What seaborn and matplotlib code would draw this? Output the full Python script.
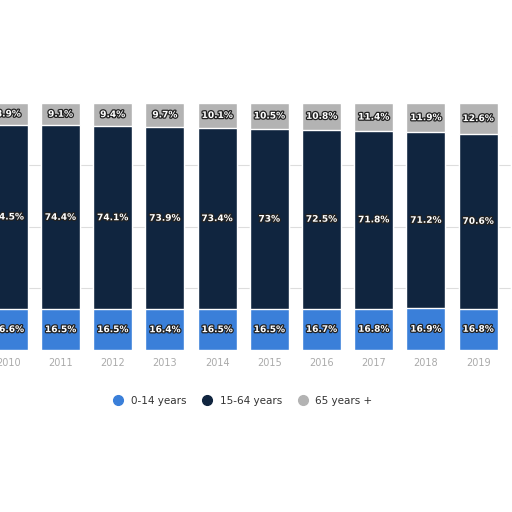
import matplotlib
matplotlib.use("Agg")
import matplotlib.pyplot as plt
import matplotlib.patheffects as pe
import seaborn as sns
import pandas as pd
import numpy as np

years = ["2010","2011","2012","2013","2014","2015","2016","2017","2018","2019","2020"]
young = [16.6,16.5,16.5,16.4,16.5,16.5,16.7,16.8,16.9,16.8,16.7]
working = [74.5,74.4,74.1,73.9,73.4,73.0,72.5,71.8,71.2,70.6,70.0]
old = [8.9,9.1,9.4,9.7,10.1,10.5,10.8,11.4,11.9,12.6,13.3]
labels_mid = ["74.5%","74.4%","74.1%","73.9%","73.4%","73%","72.5%","71.8%","71.2%","70.6%","70%"]

sns.set_theme(style="white")
fig = plt.figure(figsize=(5.12,5.12), dpi=100)
ax = fig.add_axes([0, 1-350/512, 1, 247/512])

df = pd.DataFrame({"year":years,"young":young,"working":working,"old":old})
c_young, c_work, c_old = "#3a7fd9", "#10253f", "#b3b3b3"
w = 0.75
sns.barplot(data=df, x="year", y=[100]*len(years), color=c_old, width=w, saturation=1, ax=ax, order=years)
df["yw"] = df.young + df.working
sns.barplot(data=df, x="year", y="yw", color=c_work, width=w, saturation=1, ax=ax, order=years)
sns.barplot(data=df, x="year", y="young", color=c_young, width=w, saturation=1, ax=ax, order=years)

for v in (25,50,75):
    ax.axhline(v, color="#dddddd", lw=0.8, zorder=0)

eff = [pe.withStroke(linewidth=1.8, foreground="#222222")]
for i in range(len(years)):
    kw = dict(ha="center", va="center", color="white", fontsize=6.5, fontweight="bold", path_effects=eff)
    ax.text(i, young[i]/2, f"{young[i]}%", **kw)
    ax.text(i, young[i]+working[i]/2, labels_mid[i], **kw)
    ax.text(i, 100-old[i]/2, f"{old[i]}%", **kw)

ax.set_xlim(-0.16, 9.65)
ax.set_ylim(0, 100)
ax.set_ylabel(""); ax.set_xlabel("")
ax.set_yticks([])
ax.tick_params(axis="x", labelsize=7, colors="#aaaaaa", length=0, pad=6)
for s in ax.spines.values():
    s.set_visible(False)

from matplotlib.lines import Line2D
handles = [Line2D([],[],marker="o",ls="",color=c,markersize=7) for c in (c_young,c_work,c_old)]
fig.legend(handles, ["0-14 years","15-64 years","65 years +"], loc="center", bbox_to_anchor=(240/512, 1-401/512),
           ncol=3, frameon=False, fontsize=7.5, handletextpad=0.2, columnspacing=1.0, labelcolor="#333333")
fig.savefig("out.png", dpi=100, facecolor="white")
